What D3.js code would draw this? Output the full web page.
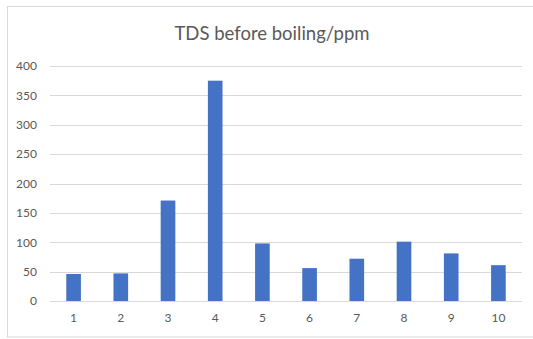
<!DOCTYPE html>
<html>
<head>
<meta charset="utf-8">
<script src="https://cdn.jsdelivr.net/npm/d3@7"></script>
<style>
  html, body { margin: 0; padding: 0; background: #fff; }
  svg { display: block; }
</style>
</head>
<body>
<svg id="chart" width="533" height="339"></svg>
<script>
// Sample numbers and their TDS readings (ppm) before boiling
const samples = ["1", "2", "3", "4", "5", "6", "7", "8", "9", "10"];
const tdsBefore = [46, 47, 171, 375, 98, 56, 72, 101, 81, 61];
const yTicks = [0, 50, 100, 150, 200, 250, 300, 350, 400];
const chartTitle = "TDS before boiling/ppm";

const svg = d3.select("#chart");
const font = "Lato, 'Noto Sans', sans-serif";
const margin = { left: 50, right: 11, top: 66, bottom: 38 };
const W = 533, H = 339;

// chart frame
svg.append("rect")
  .attr("x", 7.5).attr("y", 6.5)
  .attr("width", 540).attr("height", 330.5)
  .attr("fill", "#fff").attr("stroke", "#d9d9d9").attr("stroke-width", 1);

const x = d3.scaleBand()
  .domain(samples)
  .range([margin.left, W - margin.right])
  .paddingInner(0.69)
  .paddingOuter(0.345);

const y = d3.scaleLinear()
  .domain([0, 400])
  .range([H - margin.bottom, margin.top]);

// horizontal gridlines
svg.append("g")
  .selectAll("line")
  .data(yTicks)
  .join("line")
  .attr("x1", margin.left).attr("x2", W - margin.right)
  .attr("y1", d => Math.round(y(d)) + 0.5).attr("y2", d => Math.round(y(d)) + 0.5)
  .attr("stroke", "#d9d9d9").attr("stroke-width", 1);

// y axis labels
const yAxis = d3.axisLeft(y).tickValues(yTicks).tickSize(0).tickPadding(13);
const gy = svg.append("g")
  .attr("transform", `translate(${margin.left},0)`)
  .call(yAxis);
gy.select(".domain").remove();
gy.selectAll("text")
  .attr("fill", "#595959").attr("font-family", font).attr("font-size", 12);

// x axis labels
const xAxis = d3.axisBottom(x).tickSize(0).tickPadding(12);
const gx = svg.append("g")
  .attr("transform", `translate(0,${H - margin.bottom})`)
  .call(xAxis);
gx.select(".domain").remove();
gx.selectAll("text")
  .attr("fill", "#595959").attr("font-family", font).attr("font-size", 12);

// bars
svg.append("g")
  .selectAll("rect")
  .data(tdsBefore)
  .join("rect")
  .attr("x", (d, i) => x(samples[i]))
  .attr("width", x.bandwidth())
  .attr("y", d => y(d))
  .attr("height", d => y(0) - y(d))
  .attr("fill", "#4472c4");

// title
svg.append("text")
  .attr("x", 272).attr("y", 40)
  .attr("text-anchor", "middle")
  .attr("fill", "#595959")
  .attr("font-family", font)
  .attr("font-size", 18.5)
  .text(chartTitle);
</script>
</body>
</html>
